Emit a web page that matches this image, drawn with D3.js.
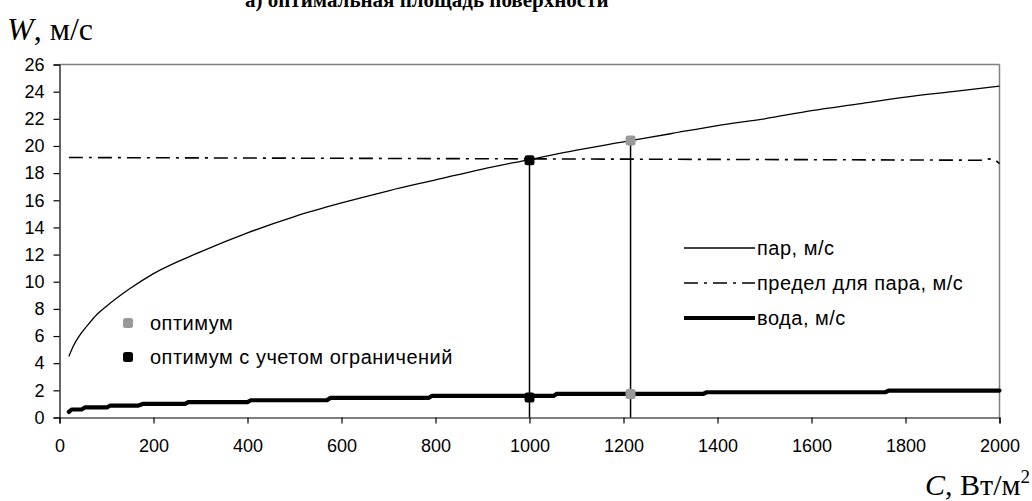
<!DOCTYPE html>
<html>
<head>
<meta charset="utf-8">
<script src="https://cdn.jsdelivr.net/npm/d3@7"></script>
<style>
  body { margin: 0; background: #fff; }
  svg { display: block; }
</style>
</head>
<body>
<svg id="chart" width="1032" height="501"></svg>
<script>
// steam velocity, м/с
var steamC = [20, 30, 40, 60, 80, 100, 150, 200, 300, 400, 500, 600, 700, 800, 900, 1000, 1100, 1200, 1300, 1400, 1500, 1600, 1700, 1800, 1900, 2000];
var steamW = [4.5, 5.3, 5.9, 6.8, 7.6, 8.2, 9.5, 10.6, 12.2, 13.6, 14.8, 15.8, 16.7, 17.5, 18.3, 19.0, 19.7, 20.3, 20.9, 21.5, 22.0, 22.6, 23.1, 23.6, 24.0, 24.4];

// limit for steam, м/с
var limitC = [20, 500, 1000, 1500, 1960, 1975, 1990, 2000];
var limitW = [19.15, 19.1, 19.05, 19.0, 18.95, 19.05, 19.0, 18.7];

// water velocity, м/с (stepped)
var waterC = [20, 26, 47, 54, 101, 108, 168, 177, 267, 274, 400, 407, 569, 576, 785, 792, 1051, 1058, 1370, 1377, 1757, 1764, 2000];
var waterW = [0.41, 0.59, 0.59, 0.74, 0.74, 0.88, 0.88, 1.0, 1.0, 1.13, 1.13, 1.27, 1.27, 1.44, 1.44, 1.59, 1.59, 1.74, 1.74, 1.86, 1.86, 1.98, 1.98];

// optimum points
var optC = [1215, 1215];
var optW = [20.4, 1.73];
var optLimC = [1000, 1000];
var optLimW = [18.95, 1.47];

var xTicks = [0, 200, 400, 600, 800, 1000, 1200, 1400, 1600, 1800, 2000];
var yTicks = [0, 2, 4, 6, 8, 10, 12, 14, 16, 18, 20, 22, 24, 26];

var legendRight = ["пар, м/с", "предел для пара, м/с", "вода, м/с"];
var legendLeft = ["оптимум", "оптимум с учетом ограничений"];

var svg = d3.select("#chart");

var x = d3.scaleLinear().domain([0, 2000]).range([59.5, 999.5]);
var y = d3.scaleLinear().domain([0, 26]).range([417.5, 64.5]);

var sans = "Arial, 'Liberation Sans', sans-serif";
var serif = "'Times New Roman', 'Liberation Serif', serif";

function pts(cs, ws) {
  return cs.map(function(c, i) { return [c, ws[i]]; });
}

var line = d3.line()
  .x(function(d) { return x(d[0]); })
  .y(function(d) { return y(d[1]); });

// title (clipped at the top)
svg.append("text")
  .attr("x", 245)
  .attr("y", 7)
  .attr("font-family", serif)
  .attr("font-weight", "bold")
  .attr("font-size", 21)
  .text("а) оптимальная площадь поверхности");

// plot frame: top and right in grey
svg.append("line")
  .attr("x1", x(0)).attr("x2", x(2000))
  .attr("y1", y(26)).attr("y2", y(26))
  .attr("stroke", "#808080").attr("stroke-width", 1.5);
svg.append("line")
  .attr("x1", x(2000)).attr("x2", x(2000))
  .attr("y1", y(26)).attr("y2", y(0))
  .attr("stroke", "#808080").attr("stroke-width", 1.5);

// axes
var xAxis = svg.append("g")
  .attr("transform", "translate(0," + y(0) + ")")
  .call(d3.axisBottom(x).tickValues(xTicks).tickSize(6).tickPadding(16).tickFormat(d3.format("d")));
var yAxis = svg.append("g")
  .attr("transform", "translate(" + x(0) + ",0)")
  .call(d3.axisLeft(y).tickValues(yTicks).tickSize(6).tickPadding(9).tickFormat(d3.format("d")));

[xAxis, yAxis].forEach(function(a) {
  a.select(".domain").attr("stroke", "#000").attr("stroke-width", 1.2);
  a.selectAll(".tick line").attr("stroke", "#000").attr("stroke-width", 1.2);
  a.selectAll(".tick text")
    .attr("fill", "#000")
    .attr("font-family", sans)
    .attr("font-size", 18);
});

// axis titles
var wTitle = svg.append("text")
  .attr("x", 7)
  .attr("y", 40)
  .attr("font-family", serif)
  .attr("font-size", 32);
wTitle.append("tspan").attr("font-style", "italic").text("W");
wTitle.append("tspan").text(", м/с");

var cTitle = svg.append("text")
  .attr("x", 1030)
  .attr("y", 495)
  .attr("text-anchor", "end")
  .attr("font-family", serif)
  .attr("font-size", 30);
cTitle.append("tspan").attr("font-style", "italic").text("C");
cTitle.append("tspan").text(", Вт/м");
cTitle.append("tspan").attr("font-size", 19).attr("dy", -12).text("2");

// series
svg.append("path")
  .datum(pts(steamC, steamW))
  .attr("fill", "none")
  .attr("stroke", "#000")
  .attr("stroke-width", 1.3)
  .attr("d", line.curve(d3.curveMonotoneX));

svg.append("path")
  .datum(pts(limitC, limitW))
  .attr("fill", "none")
  .attr("stroke", "#000")
  .attr("stroke-width", 1.6)
  .attr("stroke-dasharray", "14,6,3,6")
  .attr("d", line.curve(d3.curveLinear));

svg.append("path")
  .datum(pts(waterC, waterW))
  .attr("fill", "none")
  .attr("stroke", "#000")
  .attr("stroke-width", 4.2)
  .attr("stroke-linejoin", "round")
  .attr("stroke-linecap", "round")
  .attr("d", line.curve(d3.curveLinear));

// drop lines from the optimum points
svg.selectAll(".drop")
  .data([[optLimC[0], optLimW[0]], [optC[0], optW[0]]])
  .enter().append("line")
  .attr("class", "drop")
  .attr("x1", function(d) { return x(d[0]); })
  .attr("x2", function(d) { return x(d[0]); })
  .attr("y1", y(0))
  .attr("y2", function(d) { return y(d[1]); })
  .attr("stroke", "#000")
  .attr("stroke-width", 1.5);

function marker(sel, color) {
  sel.append("rect")
    .attr("x", -5).attr("y", -5)
    .attr("width", 10).attr("height", 10)
    .attr("rx", 2.5)
    .attr("fill", color);
}

svg.selectAll(".opt")
  .data(pts(optC, optW))
  .enter().append("g")
  .attr("transform", function(d) { return "translate(" + x(d[0]) + "," + y(d[1]) + ")"; })
  .call(marker, "#999999");

svg.selectAll(".optlim")
  .data(pts(optLimC, optLimW))
  .enter().append("g")
  .attr("transform", function(d) { return "translate(" + x(d[0]) + "," + y(d[1]) + ")"; })
  .call(marker, "#000");

// legend, right side
var legR = svg.append("g");
var legRY = [248, 283, 318];
var legStyles = [
  { w: 1.3, dash: null },
  { w: 1.6, dash: "14,6,3,6" },
  { w: 4.2, dash: null }
];
legendRight.forEach(function(t, i) {
  legR.append("line")
    .attr("x1", 684).attr("x2", 755)
    .attr("y1", legRY[i]).attr("y2", legRY[i])
    .attr("stroke", "#000")
    .attr("stroke-width", legStyles[i].w)
    .attr("stroke-dasharray", legStyles[i].dash);
  legR.append("text")
    .attr("x", 757)
    .attr("y", legRY[i])
    .attr("dy", "0.35em")
    .attr("font-family", sans)
    .attr("font-size", 20)
    .attr("letter-spacing", 0.5)
    .text(t);
});

// legend, left side
var legL = svg.append("g");
var legLY = [323, 357];
var legColors = ["#999999", "#000"];
legendLeft.forEach(function(t, i) {
  legL.append("g")
    .attr("transform", "translate(128," + legLY[i] + ")")
    .call(marker, legColors[i]);
  legL.append("text")
    .attr("x", 150)
    .attr("y", legLY[i])
    .attr("dy", "0.35em")
    .attr("font-family", sans)
    .attr("font-size", 20)
    .attr("letter-spacing", 0.5)
    .text(t);
});
</script>
</body>
</html>
